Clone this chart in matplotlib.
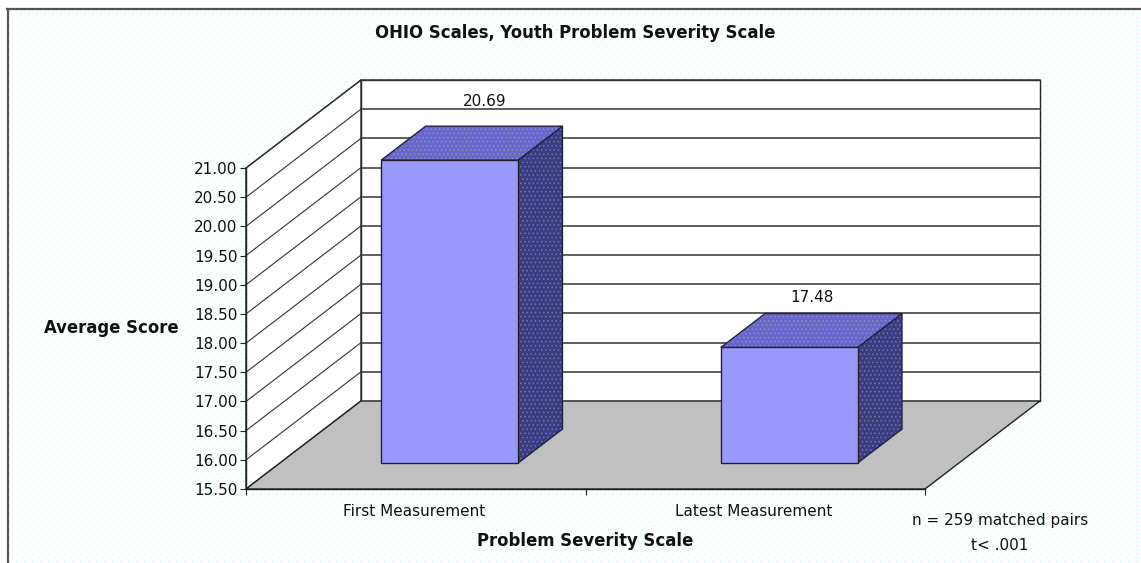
import matplotlib
matplotlib.use("Agg")
import matplotlib.pyplot as plt
import numpy as np

plt.rcParams.update({'font.family': 'DejaVu Sans', 'hatch.linewidth': 0.6})

categories = ["First Measurement", "Latest Measurement"]
scores = [20.69, 17.48]
score_labels = ["20.69", "17.48"]
yticks = [15.5, 16.0, 16.5, 17.0, 17.5, 18.0, 18.5, 19.0, 19.5, 20.0, 20.5, 21.0]

W, H = 1141, 563
fig = plt.figure(figsize=(W / 100, H / 100), dpi=100, facecolor='white')


def box(x0, y0, x1, y1):
    # pixel box (y from top) to figure fractions
    return [x0 / W, 1 - y1 / H, (x1 - x0) / W, (y1 - y0) / H]


def ftext(x, y, s, **kw):
    fig.text(x / W, 1 - y / H, s, ha='center', va='center', color='#111111', **kw)


# dithered pale cyan page background
bg = fig.add_axes(box(8, 9, W, H))
bg.axis('off')
rows, cols = H - 9, W - 8
yy, xx = np.mgrid[0:rows, 0:cols]
dots = ((xx % 8 < 2) & (yy % 8 < 2)) | (((xx + 4) % 8 < 2) & ((yy + 4) % 8 < 2))
page = np.ones((rows, cols, 3))
page[dots] = [0.86, 1.0, 1.0]
bg.imshow(page, aspect='auto', interpolation='nearest')
fig.add_artist(plt.Line2D([8 / W, 8 / W], [0, 1 - 9 / H], color='#555555', lw=1.6))
fig.add_artist(plt.Line2D([7 / W, 1], [1 - 9 / H, 1 - 9 / H], color='#555555', lw=1.6))

# main axes sits on the front plane of the 3d box
ax = fig.add_axes(box(246, 168, 925, 489))
ax.patch.set_alpha(0)
ax.set_xlim(0, 2)
ax.set_ylim(15.5, 21)

depth_x = 115 / (679 / 2)
depth_y = 88 / (321 / 5.5)
line = '#333333'


def proj(x, y, d):
    return x + d * depth_x, y + d * depth_y


def face(pts, fc, hatch=None, dots_color=None, z=2):
    xs, ys = zip(*[proj(*p) for p in pts])
    if hatch:
        ax.fill(xs, ys, facecolor=fc, edgecolor=dots_color, hatch=hatch, lw=0,
                clip_on=False, zorder=z)
        ax.fill(xs, ys, facecolor='none', edgecolor='#222244', lw=1.0,
                clip_on=False, zorder=z)
    else:
        ax.fill(xs, ys, facecolor=fc, edgecolor='#222222', lw=1.0, clip_on=False, zorder=z)


y0, y1 = yticks[0], yticks[-1]
face([(0, y0, 1), (2, y0, 1), (2, y1, 1), (0, y1, 1)], 'white', z=1)
face([(0, y0, 0), (0, y0, 1), (0, y1, 1), (0, y1, 0)], 'white', z=1)
face([(0, y0, 0), (2, y0, 0), (2, y0, 1), (0, y0, 1)], '#c0c0c0', z=1)

for t in yticks[1:]:
    xa, ya = proj(0, t, 0)
    xb, yb = proj(0, t, 1)
    xc, yc = proj(2, t, 1)
    ax.plot([xa, xb], [ya, yb], color=line, lw=0.8, clip_on=False, zorder=1.5)
    ax.plot([xb, xc], [yb, yc], color=line, lw=1.1, clip_on=False, zorder=1.5)

bar_width = 0.403
d_front, d_back = 0.295, 0.681
label_offsets = [(-9, 25), (-22, 16)]
for i, (score, lab) in enumerate(zip(scores, score_labels)):
    l, r = i + 0.5 - bar_width / 2, i + 0.5 + bar_width / 2
    face([(r, y0, d_front), (r, y0, d_back), (r, score, d_back), (r, score, d_front)],
         '#3c3c84', '....', '#77779c', z=3)
    face([(l, score, d_front), (r, score, d_front), (r, score, d_back), (l, score, d_back)],
         '#6666cc', '....', '#9191b4', z=3)
    face([(l, y0, d_front), (r, y0, d_front), (r, score, d_front), (l, score, d_front)],
         '#9999ff', z=4)
    off = label_offsets[i]
    px_, py_ = proj(i + 0.5, score, d_back)
    ax.annotate(lab, (px_, py_), xytext=(off[0] * 0.72, off[1] * 0.72),
                textcoords='offset points', ha='center', va='center',
                fontsize=11, color='#111111', annotation_clip=False, zorder=5)

for s in ['top', 'right']:
    ax.spines[s].set_visible(False)
for s in ['left', 'bottom']:
    ax.spines[s].set_color('#222222')
    ax.spines[s].set_linewidth(1.0)
    ax.spines[s].set_zorder(2)
ax.set_yticks(yticks)
ax.set_yticklabels(['%.2f' % t for t in yticks], fontsize=11, color='#111111')
ax.set_xticks([0, 1, 2])
ax.set_xticklabels([])
ax.tick_params(axis='both', length=4, width=0.8, color='#222222', pad=2)

ftext(575, 33, "OHIO Scales, Youth Problem Severity Scale", fontsize=11.9, fontweight='bold')
ftext(111, 328, "Average Score", fontsize=11.9, fontweight='bold')
ftext(585, 541, "Problem Severity Scale", fontsize=11.9, fontweight='bold')
ftext(414.5, 512, categories[0], fontsize=11)
ftext(754, 512, categories[1], fontsize=11)
ftext(1000, 520, "n = 259 matched pairs", fontsize=11)
ftext(1000, 545, "t< .001", fontsize=11)

fig.savefig("out.png", dpi=100)
